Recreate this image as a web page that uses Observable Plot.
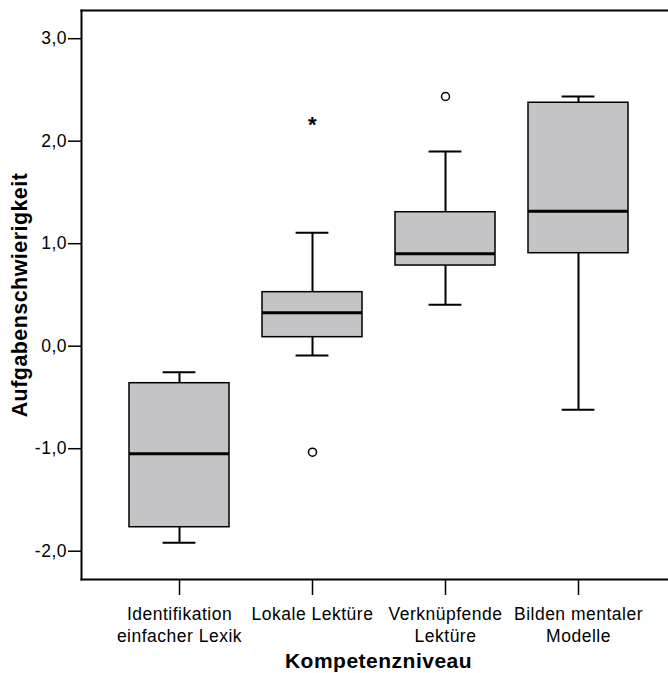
<!DOCTYPE html>
<html>
<head>
<meta charset="utf-8">
<script src="https://cdn.jsdelivr.net/npm/d3@7"></script>
<script src="https://cdn.jsdelivr.net/npm/@observablehq/plot@0.6"></script>
<style>
  html, body { margin: 0; padding: 0; background: #fff; }
</style>
</head>
<body>
<div id="chart"></div>
<script>
const categories = ["Identifikation einfacher Lexik", "Lokale Lektüre", "Verknüpfende Lektüre", "Bilden mentaler Modelle"];
const tickLabels = ["Identifikation\neinfacher Lexik", "Lokale Lektüre", "Verknüpfende\nLektüre", "Bilden mentaler\nModelle"];
const q1 = [-1.766, 0.088, 0.787, 0.907];
const median = [-1.05, 0.326, 0.901, 1.317];
const q3 = [-0.361, 0.527, 1.307, 2.375];
const whiskerLow = [-1.918, -0.091, 0.404, -0.62];
const whiskerHigh = [-0.254, 1.106, 1.9, 2.436];
const outlierCategory = ["Lokale Lektüre", "Verknüpfende Lektüre"];
const outlierValue = [-1.034, 2.436];
const extremeCategory = ["Lokale Lektüre"];
const extremeValue = [2.18];
const yTicks = [-2, -1, 0, 1, 2, 3];
const yTitle = "Aufgabenschwierigkeit";
const xTitle = "Kompetenzniveau";

const boxes = categories.map((c, i) => ({
  cat: c, q1: q1[i], med: median[i], q3: q3[i], lo: whiskerLow[i], hi: whiskerHigh[i]
}));
const outliers = outlierCategory.map((c, i) => ({cat: c, v: outlierValue[i]}));
const extremes = extremeCategory.map((c, i) => ({cat: c, v: extremeValue[i]}));

const font = "'Liberation Sans', Arial, Helvetica, sans-serif";

const chart = Plot.plot({
  width: 668,
  height: 673,
  marginLeft: 81,
  marginRight: 0,
  marginTop: 10,
  marginBottom: 94,
  style: {fontFamily: font, fontSize: "17.5px", letterSpacing: "0.5px", color: "#000", background: "#fff"},
  x: {type: "band", domain: categories, range: [111.2, 646], paddingInner: 0.25, paddingOuter: 0.125, align: 0.5, axis: null},
  y: {domain: [-2.276, 3.275], axis: null},
  marks: [
    Plot.ruleX(boxes, {x: "cat", y1: "lo", y2: "hi", stroke: "#000", strokeWidth: 2}),
    Plot.tickY(boxes, {x: "cat", y: "hi", stroke: "#000", strokeWidth: 2, insetLeft: 33.6, insetRight: 33.6}),
    Plot.tickY(boxes, {x: "cat", y: "lo", stroke: "#000", strokeWidth: 2, insetLeft: 33.6, insetRight: 33.6}),
    Plot.barY(boxes, {x: "cat", y1: "q1", y2: "q3", fill: "#c4c4c6", stroke: "#000", strokeWidth: 1.5}),
    Plot.tickY(boxes, {x: "cat", y: "med", stroke: "#000", strokeWidth: 3}),
    Plot.dot(outliers, {x: "cat", y: "v", r: 4, fill: "#fff", stroke: "#000", strokeWidth: 1.5}),
    Plot.text(extremes, {x: "cat", y: "v", text: () => "*", fontSize: 22, fontWeight: "bold", dy: 2, fill: "#000"}),
    Plot.frame({anchor: "left", stroke: "#000", strokeWidth: 2}),
    Plot.frame({anchor: "top", stroke: "#000", strokeWidth: 2}),
    Plot.frame({anchor: "bottom", stroke: "#000", strokeWidth: 2}),
    Plot.axisY(yTicks, {
      tickSize: 13, tickPadding: 1.5, strokeWidth: 1.5,
      tickFormat: d => d.toFixed(1).replace(".", ","), label: null
    }),
    Plot.axisX({
      tickSize: 16, tickPadding: 8, strokeWidth: 1.5, lineHeight: 1.3,
      tickFormat: d => tickLabels[categories.indexOf(d)], label: null
    }),
    Plot.text([yTitle], {
      frameAnchor: "left", dx: -61, rotate: -90, text: d => d,
      textAnchor: "middle", lineAnchor: "middle",
      fontSize: 21.4, fontWeight: "bold", fill: "#000"
    }),
    Plot.text([xTitle], {
      frameAnchor: "bottom", dx: 3.5, dy: 81.5, text: d => d,
      textAnchor: "middle", lineAnchor: "middle",
      fontSize: 21, fontWeight: "bold", fill: "#000"
    })
  ]
});
document.getElementById("chart").appendChild(chart);
</script>
</body>
</html>
